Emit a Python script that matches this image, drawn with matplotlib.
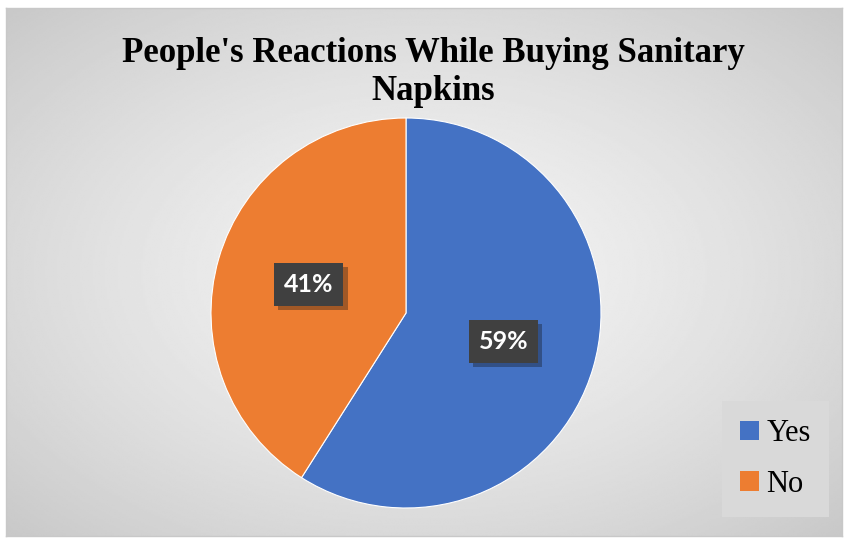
import numpy as np
import matplotlib
matplotlib.use('Agg')
import matplotlib.pyplot as plt
import matplotlib.patheffects as pe

labels = ['Yes', 'No']
values = [59, 41]
colors = ['#4472c4', '#ed7d31']
title = "People's Reactions While Buying Sanitary\nNapkins"

fig = plt.figure(figsize=(8.48, 5.42), dpi=100)
fig.patch.set_facecolor('white')

# background with radial gradient (light centre, grey edges)
bg = fig.add_axes([6/848, 6/542, 836/848, 528/542])
yy, xx = np.mgrid[-1:1:300j, -1:1:400j]
r = np.sqrt(xx**2 + yy**2) / np.sqrt(2)
shade = 0.955 - 0.17 * r**1.4
bg.imshow(shade, cmap='gray', vmin=0, vmax=1, extent=[0, 1, 0, 1],
          aspect='auto', interpolation='bilinear')
bg.set_xlim(0, 1)
bg.set_ylim(0, 1)
bg.set_xticks([])
bg.set_yticks([])
for s in bg.spines.values():
    s.set_color('#c8c8c8')
    s.set_linewidth(1)

fig.text(433/848, 1 - 72/542, title, ha='center', va='center',
         fontsize=25, fontweight='bold', family='Liberation Serif',
         linespacing=1.2)

ax = fig.add_axes([(406-195)/848, (542-313-195)/542, 390/848, 390/542])
wedges, _ = ax.pie(values, colors=colors, startangle=90, counterclock=False,
                   radius=1, wedgeprops=dict(linewidth=0.8, edgecolor='white'))
ax.set_xlim(-1, 1)
ax.set_ylim(-1, 1)
ax.set_aspect('equal')

# data labels
for w, v in zip(wedges, values):
    ang = np.deg2rad((w.theta1 + w.theta2) / 2)
    x = 0.52 * np.cos(ang)
    y = 0.52 * np.sin(ang)
    ax.text(x, y, f'{v}%', ha='center', va='center', color='white',
            fontsize=18, fontweight='bold', family='Lato',
            bbox=dict(boxstyle='square,pad=0.4', facecolor='#404040',
                      edgecolor='none',
                      path_effects=[pe.SimplePatchShadow(offset=(3, -3), alpha=0.35),
                                    pe.Normal()]))

leg = fig.legend(wedges, labels, loc='lower right',
                 bbox_to_anchor=(829/848, 1 - 517/542),
                 prop={'family': 'Liberation Serif', 'size': 22},
                 frameon=True, fancybox=False, handlelength=0.6,
                 handleheight=0.6, handletextpad=0.25, labelspacing=0.7,
                 borderpad=0.6, borderaxespad=0)
leg.get_frame().set_facecolor('#d9d9d9')
leg.get_frame().set_edgecolor('none')
leg.get_frame().set_alpha(1)
for h in leg.legend_handles:
    h.set_edgecolor('none')

fig.savefig('out.png', dpi=100)
